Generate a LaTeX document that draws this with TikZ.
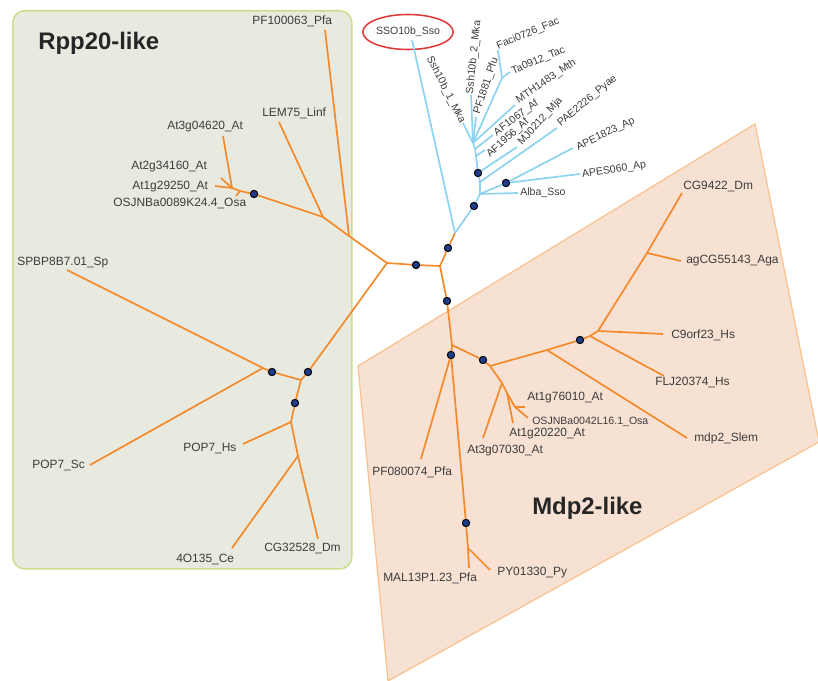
\documentclass[tikz,border=0pt]{standalone}
\usepackage{fontspec}
\setmainfont{Liberation Sans}
\usetikzlibrary{shapes.geometric}
\definecolor{orangebr}{HTML}{F4892A}
\definecolor{bluebr}{HTML}{8DD3F0}
\definecolor{rppfill}{HTML}{E8EAE0}
\definecolor{rppedge}{HTML}{C9DF8A}
\definecolor{mdpfill}{HTML}{F7E1D3}
\definecolor{mdpedge}{HTML}{FAC28F}
\definecolor{navydot}{HTML}{1F3C88}
\definecolor{ssored}{HTML}{E0373B}
\definecolor{labelgray}{HTML}{3C3C3C}
\begin{document}
\begin{tikzpicture}[x=0.025cm, y=-0.025cm,
	leaf/.style={anchor=west, inner sep=0pt, text=labelgray, font=\fontsize{8.5}{10}\selectfont},
	arch/.style={leaf, font=\fontsize{7.5}{9}\selectfont},
	title/.style={anchor=west, inner sep=0pt, text=black!85, font=\fontsize{17}{20}\selectfont\bfseries},
	dot/.style={circle, draw=black, fill=navydot, line width=0.7pt, minimum size=5.2pt, inner sep=0pt},
	obr/.style={draw=orangebr, line width=1.2pt},
	bbr/.style={draw=bluebr, line width=1.2pt}]
	\useasboundingbox (0,0) rectangle (818,681);
	\node[draw=rppedge, fill=rppfill, line width=1.1pt, rectangle, rounded corners=0.3cm, minimum width=8.475cm, minimum height=13.95cm, anchor=north west] (rppbox) at (12,10) {};
	\begin{scope}
		\clip (0,0) rectangle (818,681);
		\filldraw[fill=mdpfill, draw=mdpedge, line width=0.9pt] (358,366) -- (755,124) -- (819,442) -- (388,681) -- cycle;
	\end{scope}
	\node[title] (rpplabel) at (38,43) {Rpp20-like};
	\node[title] (mdplabel) at (532,508) {Mdp2-like};
	\coordinate (oc) at (387,263);
	\node[dot] (od1) at (416,265) {};
	\coordinate (oj1) at (440,266);
	\node[dot] (od2) at (448,248) {};
	\coordinate (bj0) at (455,233);
	\node[dot] (od3) at (447,301) {};
	\coordinate (oj2) at (452,345);
	\node[dot] (od4) at (451,355) {};
	\coordinate (t_pf080074) at (421,459);
	\node[dot] (od5) at (466,523) {};
	\coordinate (oj3) at (468,548);
	\coordinate (t_mal) at (469,568);
	\coordinate (t_py) at (490,570);
	\node[dot] (od6) at (483,360) {};
	\coordinate (oj4) at (490,366);
	\coordinate (oj5) at (547,350);
	\coordinate (t_mdp2) at (687,438);
	\node[dot] (od7) at (580,340) {};
	\coordinate (oj6) at (590,336);
	\coordinate (t_flj) at (664,376);
	\coordinate (oj7) at (598,331);
	\coordinate (t_c9) at (663,334);
	\coordinate (oj8) at (647,253);
	\coordinate (t_ag) at (681,261);
	\coordinate (t_cg9422) at (682,193);
	\coordinate (oj9) at (502,383);
	\coordinate (t_at3g07030) at (483,438);
	\coordinate (oj10) at (507,393);
	\coordinate (t_at1g20220) at (513,423);
	\coordinate (oj11) at (515,407);
	\coordinate (t_at1g76010) at (525,407);
	\coordinate (t_osjl16) at (528,418);
	\coordinate (ol1) at (349,236);
	\coordinate (t_pf100063) at (325,30);
	\coordinate (ol2) at (323,217);
	\coordinate (t_lem75) at (279,122);
	\node[dot] (od8) at (254,194) {};
	\coordinate (ol3) at (240,191);
	\coordinate (t_osj24) at (236,196);
	\coordinate (ol4) at (232,188);
	\coordinate (t_at1g29250) at (215,186);
	\coordinate (t_at2g34160) at (221,178);
	\coordinate (t_at3g04620) at (223,136);
	\node[dot] (od9) at (308,372) {};
	\coordinate (ol5) at (301,380);
	\node[dot] (od10) at (272,372) {};
	\coordinate (ol6) at (263,368);
	\coordinate (t_spbp) at (67,270);
	\coordinate (t_pop7sc) at (90,465);
	\node[dot] (od11) at (295,403) {};
	\coordinate (ol7) at (291,422);
	\coordinate (t_pop7hs) at (243,444);
	\coordinate (ol8) at (298,456);
	\coordinate (t_4o135) at (232,548);
	\coordinate (t_cg32528) at (318,539);
	\node[ellipse, draw=ssored, line width=1.1pt, minimum width=1.95cm, minimum height=0.875cm, inner sep=0pt, text=labelgray, font=\fontsize{7.5}{9}\selectfont] (sso) at (408,32) {SSO10b\_Sso};
	\coordinate (t_sso) at (412,40);
	\node[dot] (bd1) at (474,206) {};
	\coordinate (bj1) at (480,194);
	\coordinate (t_alba) at (518,193);
	\node[dot] (bd3) at (506,183) {};
	\coordinate (t_ape1823) at (573,148);
	\coordinate (t_apes060) at (580,174);
	\coordinate (bj2) at (480,182);
	\coordinate (t_pae) at (557,128);
	\node[dot] (bd2) at (478,173) {};
	\coordinate (t_mj) at (517,147);
	\coordinate (bj3) at (476,156);
	\coordinate (t_af1956) at (485,150);
	\coordinate (bj4) at (475,149);
	\coordinate (t_af1067) at (493,135);
	\coordinate (bj5) at (473,143);
	\coordinate (t_mth) at (515,105);
	\coordinate (bj6) at (502,78);
	\coordinate (t_faci) at (498,50);
	\coordinate (t_ta) at (510,72);
	\coordinate (t_pf1881) at (476,117);
	\coordinate (t_ssh2) at (471,95);
	\coordinate (t_ssh1) at (463,123);
	\draw[obr] (oc) edge (od1) (od1) edge (oj1) (oj1) edge (od2) (od2) edge (bj0) (oj1) edge (od3) (od3) edge (oj2) (oj2) edge (od4);
	\draw[obr] (od4) edge (t_pf080074) (od4) edge (od5) (od5) edge (oj3) (oj3) edge (t_mal) (oj3) edge (t_py);
	\draw[obr] (oj2) edge (od6) (od6) edge (oj4) (oj4) edge (oj5) (oj5) edge (od7) (oj5) edge (t_mdp2) (od7) edge (oj6) (oj6) edge (t_flj) (oj6) edge (oj7) (oj7) edge (t_c9) (oj7) edge (oj8) (oj8) edge (t_ag) (oj8) edge (t_cg9422);
	\draw[obr] (oj4) edge (oj9) (oj9) edge (t_at3g07030) (oj9) edge (oj10) (oj10) edge (t_at1g20220) (oj10) edge (oj11) (oj11) edge (t_at1g76010) (oj11) edge (t_osjl16);
	\draw[obr] (oc) edge (ol1) (ol1) edge (t_pf100063) (ol1) edge (ol2) (ol2) edge (t_lem75) (ol2) edge (od8) (od8) edge (ol3) (ol3) edge (t_osj24) (ol3) edge (ol4) (ol4) edge (t_at1g29250) (ol4) edge (t_at2g34160) (ol4) edge (t_at3g04620);
	\draw[obr] (oc) edge (od9) (od9) edge (ol5) (ol5) edge (od10) (od10) edge (ol6) (ol6) edge (t_spbp) (ol6) edge (t_pop7sc) (ol5) edge (od11) (od11) edge (ol7) (ol7) edge (t_pop7hs) (ol7) edge (ol8) (ol8) edge (t_4o135) (ol8) edge (t_cg32528);
	\draw[bbr] (bj0) edge (t_sso) (bj0) edge (bd1) (bd1) edge (bj1) (bj1) edge (t_alba) (bj1) edge (bd3) (bd3) edge (t_ape1823) (bd3) edge (t_apes060) (bj1) edge (bj2) (bj2) edge (t_pae) (bj2) edge (bd2) (bd2) edge (t_mj) (bd2) edge (bj3);
	\draw[bbr] (bj3) edge (t_af1956) (bj3) edge (bj4) (bj4) edge (t_af1067) (bj4) edge (bj5) (bj5) edge (t_mth) (bj5) edge (bj6) (bj6) edge (t_faci) (bj6) edge (t_ta) (bj5) edge (t_pf1881) (bj5) edge (t_ssh2) (bj5) edge (t_ssh1);
	\node[leaf] (l_pf100063) at (252,21) {PF100063\_Pfa};
	\node[leaf] (l_lem75) at (262,113) {LEM75\_Linf};
	\node[leaf] (l_at3g04620) at (167,127) {At3g04620\_At};
	\node[leaf] (l_at2g34160) at (131,167) {At2g34160\_At};
	\node[leaf] (l_at1g29250) at (132,187) {At1g29250\_At};
	\node[leaf] (l_osj24) at (113,204) {OSJNBa0089K24.4\_Osa};
	\node[leaf] (l_spbp) at (17,263) {SPBP8B7.01\_Sp};
	\node[leaf] (l_pop7sc) at (32,466) {POP7\_Sc};
	\node[leaf] (l_pop7hs) at (183,449) {POP7\_Hs};
	\node[leaf] (l_4o135) at (176,560) {4O135\_Ce};
	\node[leaf] (l_cg32528) at (264,549) {CG32528\_Dm};
	\node[leaf] (l_cg9422) at (683,187) {CG9422\_Dm};
	\node[leaf] (l_ag) at (686,261) {agCG55143\_Aga};
	\node[leaf] (l_c9) at (671,335) {C9orf23\_Hs};
	\node[leaf] (l_flj) at (655,383) {FLJ20374\_Hs};
	\node[leaf] (l_mdp2) at (694,438) {mdp2\_Slem};
	\node[leaf] (l_at1g76010) at (527,398) {At1g76010\_At};
	\node[arch] (l_osjl16) at (532,422) {OSJNBa0042L16.1\_Osa};
	\node[leaf] (l_at1g20220) at (509,434) {At1g20220\_At};
	\node[leaf] (l_at3g07030) at (467,451) {At3g07030\_At};
	\node[leaf] (l_pf080074) at (372,472) {PF080074\_Pfa};
	\node[leaf] (l_mal) at (383,578) {MAL13P1.23\_Pfa};
	\node[leaf] (l_py) at (497,573) {PY01330\_Py};
	\node[arch] (l_alba) at (520,193) {Alba\_Sso};
	\node[arch, rotate=-63] (l_ssh1) at (429,57) {Ssh10b\_1\_Mka};
	\node[arch, rotate=84] (l_ssh2) at (470,94) {Ssh10b\_2\_Mka};
	\node[arch, rotate=72] (l_pf1881) at (477,114) {PF1881\_Pfu};
	\node[arch, rotate=23] (l_faci) at (497,47) {Faci0726\_Fac};
	\node[arch, rotate=23] (l_ta) at (512,72) {Ta0912\_Tac};
	\node[arch, rotate=34] (l_mth) at (517,101) {MTH1483\_Mth};
	\node[arch, rotate=37] (l_af1067) at (495,134) {AF1067\_Af};
	\node[arch, rotate=42] (l_af1956) at (488,156) {AF1956\_Af};
	\node[arch, rotate=48] (l_mj) at (520,144) {MJ0212\_Mja};
	\node[arch, rotate=40] (l_pae) at (559,125) {PAE2226\_Pyae};
	\node[arch, rotate=26] (l_ape1823) at (577,148) {APE1823\_Ap};
	\node[arch, rotate=9] (l_apes060) at (582,175) {APES060\_Ap};
\end{tikzpicture}
\end{document}
